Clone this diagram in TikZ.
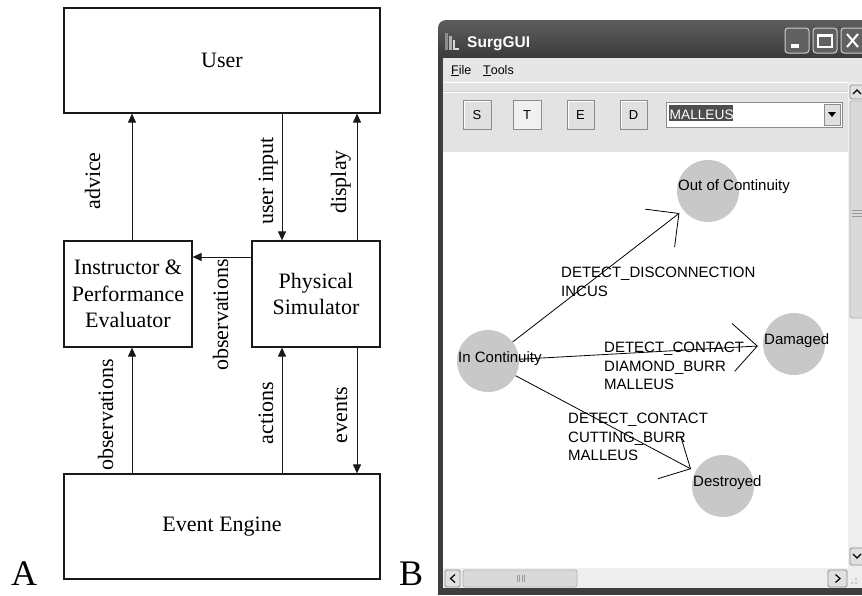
\documentclass[tikz,border=0pt]{standalone}
\usepackage{fontspec}
\setmainfont{Liberation Serif}
\newfontfamily\guifont{Liberation Sans}
\usetikzlibrary{arrows.meta,calc}
\definecolor{framedark}{HTML}{3E3E3E}
\definecolor{titletop}{HTML}{5E5E5E}
\definecolor{titlebot}{HTML}{3A3A3A}
\definecolor{menubg}{HTML}{E6E6E6}
\definecolor{toolbg}{HTML}{E3E3E3}
\definecolor{btnfill}{HTML}{E0E0E0}
\definecolor{trackbg}{HTML}{EEEEEE}
\definecolor{thumbbg}{HTML}{D9D9D9}
\definecolor{nodegray}{HTML}{C8C8C8}
\definecolor{selbg}{HTML}{4E4E4E}
\begin{document}
\begin{tikzpicture}[x=1pt,y=-1pt,
  box/.style={draw=black!90, line width=1.2pt, inner sep=0, align=center,
    font=\fontsize{22}{26.5}\selectfont},
  arr/.style={line width=1pt, draw=black!90, -{Triangle[length=9pt,width=8pt]}},
  rlab/.style={rotate=90, anchor=base, inner sep=0, font=\fontsize{22}{26}\selectfont},
  gnode/.style={circle, fill=nodegray, minimum size=62pt, inner sep=0},
  gtext/.style={anchor=base west, inner sep=0, align=left,
    font=\guifont\fontsize{15}{18.5}\selectfont},
  gmulti/.style={gtext, anchor=north west},
  gedge/.style={line width=0.8pt, -{Straight Barb[length=24pt,width=48pt,line width=0.8pt]}, shorten >=5pt},
  tbtn/.style={draw=black!45, fill=btnfill, line width=0.8pt},
  ui/.style={font=\guifont\fontsize{13}{15}\selectfont, inner sep=0}
]
\useasboundingbox (0,0) rectangle (862,595);
\fill[white] (0,0) rectangle (862,595);

% ---------------- Part A ----------------
\node[box, minimum width=316pt, minimum height=105pt] (user) at (222,60.5) {User};
\node[box, minimum width=128pt, minimum height=106pt] (inst) at (128,294) {Instructor \&\\Performance\\Evaluator};
\node[box, minimum width=128pt, minimum height=106pt] (phys) at (316,294) {Physical\\Simulator};
\node[box, minimum width=316pt, minimum height=105pt] (eng) at (222,526.5) {Event Engine};

\coordinate (xa) at (132,0);
\coordinate (xb) at (282,0);
\coordinate (xc) at (357,0);
\coordinate (yo) at (0,257);

\draw[arr] (inst.north -| xa) -- (user.south -| xa);
\draw[arr] (user.south -| xb) -- (phys.north -| xb);
\draw[arr] (phys.north -| xc) -- (user.south -| xc);
\draw[arr] (phys.west |- yo) -- (inst.east |- yo);
\draw[arr] (eng.north -| xa) -- (inst.south -| xa);
\draw[arr] (eng.north -| xb) -- (phys.south -| xb);
\draw[arr] (phys.south -| xc) -- (eng.north -| xc);

\node[rlab] (ladv) at (100,181) {advice};
\node[rlab] (luin) at (273,181) {user input};
\node[rlab] (ldis) at (346,182) {display};
\node[rlab] (lob1) at (228,315) {observations};
\node[rlab] (lob2) at (113,415) {observations};
\node[rlab] (lact) at (273,413) {actions};
\node[rlab] (levt) at (347,415) {events};

\node[anchor=base west, inner sep=0, font=\fontsize{36}{40}\selectfont] (la) at (11,585) {A};
\node[anchor=base west, inner sep=0, font=\fontsize{36}{40}\selectfont] (lb) at (399,585) {B};

% ---------------- Part B (screenshot) ----------------
% frame and title bar
\fill[framedark] (438,40) rectangle (870,595);
\shade[top color=titletop, bottom color=titlebot, rounded corners=8pt] (438,20) rectangle (880,58);
% icon
\fill[black!45] (445,33) rectangle (448,50);
\fill[black!30] (449,36) rectangle (452,50);
\fill[black!15] (453,40) rectangle (455,50);
\fill[black!15] (453,48) rectangle (459,50);
\node[anchor=base west, inner sep=0, text=white, font=\guifont\bfseries\fontsize{15.5}{17}\selectfont] (ttl) at (467,47) {SurgGUI};
% title buttons
\draw[fill=black!62, draw=black!20, line width=1pt, rounded corners=3pt] (785,28) rectangle (809,53);
\fill[white] (791,44) rectangle (799,47.5);
\draw[fill=black!62, draw=black!20, line width=1pt, rounded corners=3pt] (813,28) rectangle (837,53);
\draw[white, line width=1.3pt] (818,35) rectangle (832,47);
\draw[white, line width=2.2pt] (818,35.5) -- (832,35.5);
\draw[fill=black!62, draw=black!20, line width=1pt, rounded corners=3pt] (841,28) rectangle (868,53);
\draw[white, line width=2pt] (847,34) -- (858,47) (858,34) -- (847,47);

% menu bar
\fill[menubg] (443,58) rectangle (862,82);
\node[ui, anchor=base west, font=\guifont\fontsize{12.5}{14}\selectfont] (mfile) at (451,74) {\underline{F}ile};
\node[ui, anchor=base west, font=\guifont\fontsize{12.5}{14}\selectfont] (mtools) at (483,74) {\underline{T}ools};

% toolbar
\fill[toolbg] (443,82) rectangle (848,152);
\draw[white, line width=1pt] (443,82.5) -- (848,82.5);
\draw[black!18, line width=0.8pt] (443,91.5) -- (848,91.5);
\draw[white, line width=0.8pt] (443,92.5) -- (848,92.5);

\draw[tbtn] (463,100) rectangle (491,129);
\draw[white, line width=1pt] (464,128) -- (464,101) -- (490,101);
\node[ui] (bs) at (477,115) {S};
\draw[tbtn, fill=black!6] (513,100) rectangle (541,129);
\node[ui] (bt) at (527,115) {T};
\draw[tbtn] (567,100) rectangle (594,129);
\draw[white, line width=1pt] (568,128) -- (568,101) -- (593,101);
\node[ui] (be) at (580.5,115) {E};
\draw[tbtn] (620,100) rectangle (647,129);
\draw[white, line width=1pt] (621,128) -- (621,101) -- (646,101);
\node[ui] (bd) at (633.5,115) {D};

% combo box
\draw[fill=white, draw=black!45, line width=0.8pt] (666,102) rectangle (842,127);
\fill[selbg] (669,105) rectangle (733,121);
\node[ui, anchor=base west, text=white, font=\guifont\fontsize{13.7}{15}\selectfont] (cmb) at (669.5,119) {MALLEUS};
\draw[tbtn] (824,104) rectangle (840,125);
\fill[black] (828,112) -- (836,112) -- (832,117) -- cycle;

% canvas
\fill[white] (443,152) rectangle (848,568);

% vertical scrollbar
\fill[trackbg] (848,82) rectangle (862,568);
\draw[tbtn, rounded corners=1.5pt] (850,85) rectangle (866,99);
\draw[line width=1.2pt] (853,94) -- (857,90) -- (861,94);
\draw[fill=thumbbg, draw=black!30, line width=0.8pt, rounded corners=2pt] (850,101) rectangle (866,318);
\draw[black!40, line width=0.6pt] (852,210) -- (862,210) (852,213) -- (862,213) (852,216) -- (862,216);
\draw[tbtn, rounded corners=1.5pt] (850,548) rectangle (866,565);
\draw[line width=1.2pt] (853,554) -- (857,558) -- (861,554);

% horizontal scrollbar
\fill[trackbg] (443,568) rectangle (862,588);
\draw[tbtn, rounded corners=1.5pt] (445,570) rectangle (460,587);
\draw[line width=1.2pt] (455,574.5) -- (450.5,578.5) -- (455,582.5);
\draw[fill=thumbbg, draw=black!30, line width=0.8pt, rounded corners=2pt] (463,570) rectangle (577,587);
\draw[black!40, line width=0.6pt] (517,575) -- (517,582) (519.5,575) -- (519.5,582) (522,575) -- (522,582) (524.5,575) -- (524.5,582);
\draw[tbtn, rounded corners=1.5pt] (828,570) rectangle (847,587);
\draw[line width=1.2pt] (835.5,574.5) -- (840,578.5) -- (835.5,582.5);
\fill[black!35] (856,579) circle (0.8pt) (852,583) circle (0.8pt) (856,583) circle (0.8pt);

% graph
\node[gnode] (oc) at (708,191) {};
\node[gnode] (dm) at (794,344) {};
\node[gnode] (ic) at (488,361) {};
\node[gnode] (ds) at (723,486) {};

\draw[gedge] (ic) -- (oc);
\draw[gedge] (ic) -- (dm);
\draw[gedge] (ic) -- (ds);

\node[gtext] (toc) at (678,190) {Out of Continuity};
\node[gtext] (tdm) at (764,344) {Damaged};
\node[gtext] (tic) at (458,362) {In Continuity};
\node[gtext] (tds) at (693,486) {Destroyed};

\node[gmulti] (e1) at (561,267.3) {DETECT\_DISCONNECTION\\INCUS};
\node[gmulti] (e2) at (604,342.3) {DETECT\_CONTACT\\DIAMOND\_BURR\\MALLEUS};
\node[gmulti] (e3) at (568,413.3) {DETECT\_CONTACT\\CUTTING\_BURR\\MALLEUS};
\end{tikzpicture}
\end{document}
